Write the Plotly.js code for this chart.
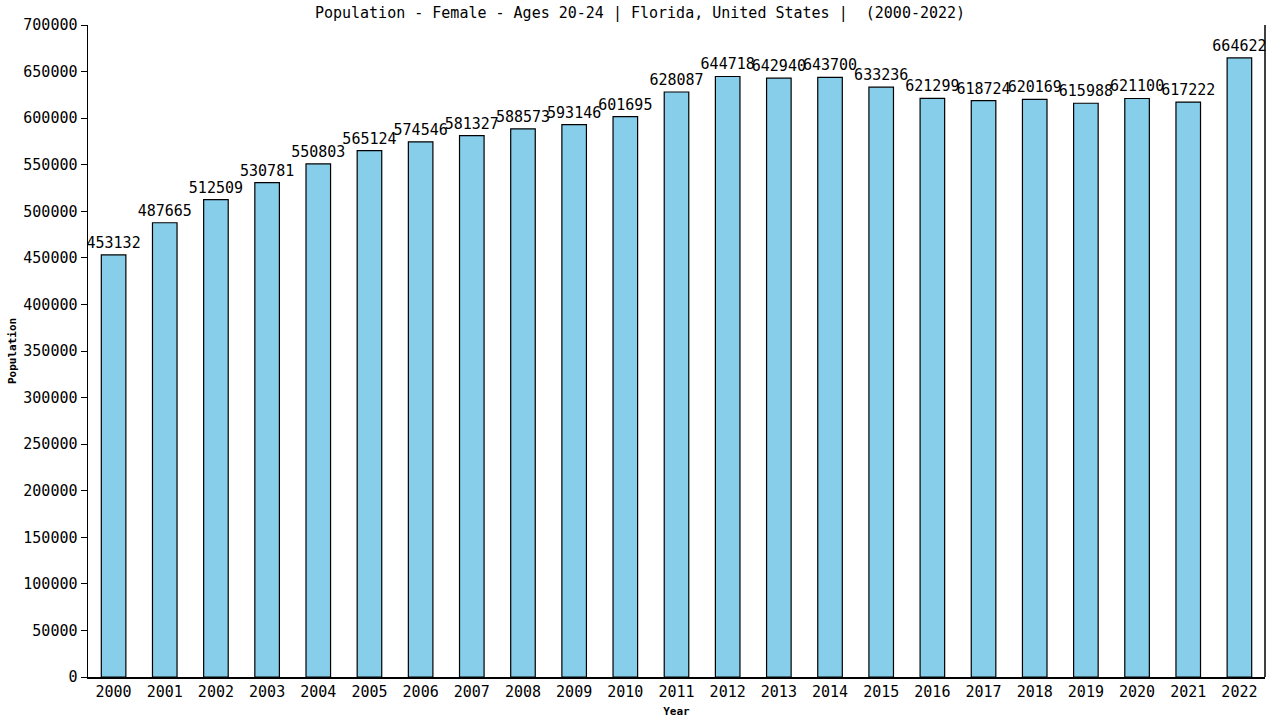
<!DOCTYPE html>
<html>
<head>
<meta charset="utf-8">
<script src="https://cdn.plot.ly/plotly-3.0.1.min.js"></script>
<style>
  html, body { margin: 0; padding: 0; background: #fff; }
  #chart { width: 1280px; height: 720px; }
</style>
</head>
<body>
<div id="chart"></div>
<script>
// Data
const years = ["2000","2001","2002","2003","2004","2005","2006","2007","2008","2009","2010","2011",
               "2012","2013","2014","2015","2016","2017","2018","2019","2020","2021","2022"];
const population = [453132, 487665, 512509, 530781, 550803, 565124, 574546, 581327, 588573, 593146,
                    601695, 628087, 644718, 642940, 643700, 633236, 621299, 618724, 620169, 615988,
                    621100, 617222, 664622];
const yTicks = [0, 50000, 100000, 150000, 200000, 250000, 300000, 350000, 400000, 450000,
                500000, 550000, 600000, 650000, 700000];

const mono = "DejaVu Sans Mono, monospace";

Plotly.newPlot("chart", [{
  x: years,
  y: population,
  type: "bar",
  width: 0.48,
  marker: { color: "#87ceeb", line: { color: "#000", width: 1.2 } },
  text: population.map(String),
  textposition: "outside",
  constraintext: "none",
  cliponaxis: false,
  textfont: { family: mono, size: 15, color: "#000" },
  hoverinfo: "none"
}], {
  width: 1280, height: 720,
  paper_bgcolor: "#fff", plot_bgcolor: "#fff",
  margin: { l: 88, r: 15, t: 25, b: 43 },
  showlegend: false,
  bargap: 0.5,
  title: {
    text: "Population - Female - Ages 20-24 | Florida, United States |  (2000-2022)",
    font: { family: mono, size: 15, color: "#000" },
    x: 0.5, xanchor: "center", y: 0.982, yanchor: "middle"
  },
  font: { family: mono, size: 15, color: "#000" },
  xaxis: {
    type: "category",
    range: [-0.5, 22.5],
    showline: true, linecolor: "#000", linewidth: 1.5,
    mirror: false,
    ticks: "", showgrid: false, zeroline: false,
    tickfont: { family: mono, size: 15, color: "#000" },
    title: { text: "<b>Year</b>", font: { family: mono, size: 11, color: "#000" }, standoff: 8 }
  },
  yaxis: {
    range: [0, 700000],
    tickvals: yTicks,
    ticktext: yTicks.map(String),
    showline: true, linecolor: "#000", linewidth: 1.5,
    ticks: "outside", ticklen: 6, tickcolor: "#000",
    showgrid: false, zeroline: false,
    tickfont: { family: mono, size: 15, color: "#000" },
    title: { text: "<b>Population</b>", font: { family: mono, size: 11, color: "#000" }, standoff: 4 }
  },
  shapes: [{
    type: "line", xref: "paper", yref: "paper",
    x0: 1, x1: 1, y0: 0, y1: 1,
    line: { color: "#000", width: 1.5 }
  }]
}, { displayModeBar: false, staticPlot: true });
</script>
</body>
</html>
